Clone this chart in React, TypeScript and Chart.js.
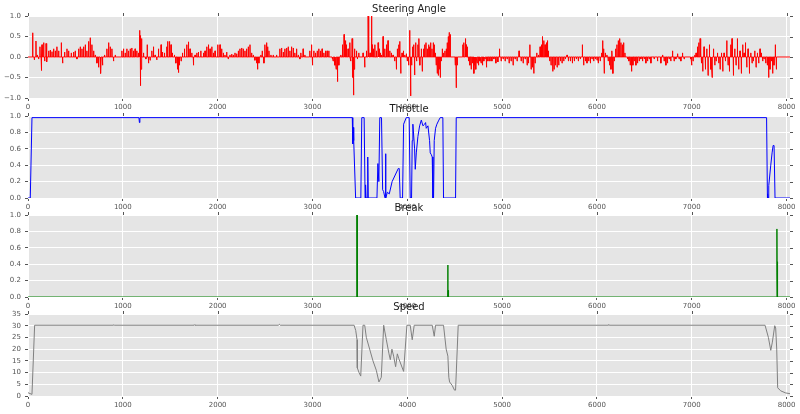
import { useEffect, useRef } from 'react';
import { Chart, registerables } from 'chart.js';

Chart.register(...registerables);

// ---- data ----
const sampleMax = 8036;
const sampleTicks = [0, 1000, 2000, 3000, 4000, 5000, 6000, 7000, 8000];
const steeringTicks = [-1, -0.5, 0, 0.5, 1];
const pedalTicks = [0, 0.2, 0.4, 0.6, 0.8, 1];
const speedTicks = [0, 5, 10, 15, 20, 25, 30, 35];

// steering angle: signal sits at 0 and jumps to these values at these samples
const steeringSpikes: [number, number][] = [
  [49, 0.59], [67, -0.07], [84, 0.39], [98, 0.05], [112, -0.05], [126, 0.25], [140, -0.33], [148, 0.3],
  [165, 0.35], [176, -0.1], [190, 0.33], [200, -0.12], [218, 0.15], [235, 0.17], [253, 0.13], [270, 0.2],
  [288, 0.15], [305, 0.25], [323, 0.15], [351, 0.35], [365, -0.15], [386, 0.12], [411, 0.2], [428, 0.15],
  [456, 0.1], [481, 0.12], [498, 0.15], [516, -0.05], [534, 0.2], [551, 0.25], [569, 0.2], [586, 0.25],
  [604, 0.3], [621, 0.15], [639, 0.38], [656, 0.47], [674, 0.3], [692, 0.15], [709, 0.05], [727, -0.15],
  [744, -0.25], [762, -0.35], [769, -0.4], [786, -0.2], [807, 0.05], [832, 0.2], [850, 0.35], [867, 0.25],
  [885, 0.2], [902, -0.1], [920, 0.05], [990, 0.15], [1007, 0.2], [1025, 0.1], [1043, 0.2], [1060, 0.15],
  [1078, 0.2], [1095, 0.22], [1113, 0.15], [1130, 0.2], [1148, 0.15], [1165, 0.1], [1176, 0.65], [1183, 0.52],
  [1186, -0.7], [1193, -0.3], [1200, 0.45], [1218, 0.1], [1243, -0.05], [1257, 0.3], [1271, -0.15], [1288, -0.08],
  [1306, 0.15], [1323, 0.25], [1341, 0.05], [1358, -0.07], [1376, 0.2], [1404, 0.3], [1418, 0.12], [1439, 0.1],
  [1464, 0.25], [1474, 0.38], [1492, 0.38], [1509, 0.3], [1523, 0.1], [1544, 0.05], [1559, -0.15], [1576, -0.3],
  [1587, -0.38], [1597, -0.2], [1615, -0.1], [1629, 0.1], [1650, 0.2], [1674, 0.3], [1692, 0.37], [1709, 0.2],
  [1727, 0.1], [1745, -0.2], [1762, 0.05], [1780, 0.1], [1797, 0.12], [1822, 0.15], [1850, 0.1], [1867, 0.15],
  [1885, 0.25], [1903, 0.3], [1920, 0.2], [1938, 0.25], [1955, 0.1], [1973, 0.15], [2001, 0.3], [2025, 0.3],
  [2042, 0.2], [2060, 0.1], [2077, 0.05], [2095, 0.12], [2112, -0.05], [2130, 0.05], [2148, 0.07], [2165, 0.05],
  [2183, 0.1], [2200, 0.08], [2218, 0.15], [2235, 0.2], [2253, 0.22], [2270, 0.2], [2288, 0.15], [2305, 0.2],
  [2323, 0.25], [2341, 0.3], [2358, 0.1], [2376, 0.05], [2393, -0.08], [2411, -0.15], [2421, -0.3], [2435, -0.15],
  [2456, 0.05], [2470, 0.15], [2488, -0.15], [2499, 0.3], [2516, 0.35], [2527, 0.25], [2541, 0.15], [2562, 0.05],
  [2586, 0.05], [2621, 0.05], [2656, 0.2], [2674, 0.22], [2692, 0.12], [2709, 0.2], [2727, 0.22], [2744, 0.25],
  [2762, 0.15], [2779, 0.25], [2797, 0.22], [2814, 0.1], [2832, 0.2], [2850, 0.05], [2867, -0.05], [2878, 0.1],
  [2902, 0.2], [2920, 0.05], [2972, 0.15], [2990, 0.3], [3000, -0.2], [3014, 0.15], [3032, 0.1], [3050, 0.15],
  [3067, 0.2], [3085, 0.15], [3102, 0.2], [3120, 0.1], [3137, 0.15], [3155, 0.15], [3172, 0.15], [3208, -0.05],
  [3218, -0.1], [3236, -0.2], [3250, -0.3], [3264, -0.6], [3278, -0.2], [3299, 0.05], [3316, 0.3], [3334, 0.55],
  [3348, 0.4], [3358, 0.3], [3376, 0.2], [3394, 0.35], [3404, -0.1], [3418, 0.45], [3425, -0.5], [3432, -0.93],
  [3439, -0.3], [3446, 0.2], [3464, 0.15], [3474, -0.05], [3488, 0.1], [3534, 0.1], [3551, -0.25], [3569, 0.15],
  [3587, 1.0], [3594, 0.3], [3608, 0.1], [3622, 1.0], [3629, 0.3], [3643, 0.2], [3657, 0.3], [3674, 0.15],
  [3692, 0.35], [3702, 0.2], [3716, 0.1], [3727, 0.05], [3745, 0.5], [3762, 0.2], [3780, 0.3], [3797, 0.4],
  [3815, 0.15], [3832, 0.1], [3850, 0.05], [3867, -0.1], [3885, -0.3], [3895, 0.2], [3910, 0.3], [3920, 0.38],
  [3931, -0.4], [3945, 0.1], [3959, 0.15], [3973, 0.05], [3990, 0.08], [4000, -0.1], [4014, -0.2], [4025, 0.65],
  [4035, -0.95], [4046, -0.2], [4056, 0.25], [4067, 0.3], [4077, -0.44], [4088, 0.35], [4098, -0.1], [4112, 0.3],
  [4123, 0.45], [4133, -0.2], [4148, 0.2], [4158, -0.35], [4172, 0.2], [4183, 0.3], [4197, 0.35], [4211, 0.2],
  [4225, 0.3], [4235, 0.25], [4246, 0.35], [4260, 0.2], [4274, 0.35], [4284, 0.3], [4295, 0.1], [4305, -0.2],
  [4316, -0.4], [4327, -0.45], [4337, -0.3], [4348, -0.5], [4358, -0.1], [4369, 0.2], [4383, 0.1], [4397, 0.15],
  [4411, 0.2], [4421, 0.35], [4432, 0.5], [4442, 0.6], [4453, 0.55], [4506, -0.2], [4516, -0.75], [4527, -0.2],
  [4586, 0.3], [4597, 0.35], [4611, 0.45], [4621, 0.3], [4632, 0.25], [4646, -0.1], [4660, -0.2], [4674, -0.3],
  [4688, -0.15], [4702, -0.4], [4713, -0.2], [4723, -0.3], [4737, -0.15], [4751, -0.2], [4765, -0.1], [4779, -0.15],
  [4793, -0.2], [4807, -0.1], [4821, -0.05], [4835, -0.25], [4850, -0.1], [4871, -0.1], [4892, -0.1], [4913, -0.05],
  [4934, -0.15], [4955, -0.12], [4972, 0.2], [4990, -0.1], [5011, -0.05], [5032, -0.1], [5053, -0.05], [5074, -0.15],
  [5095, -0.1], [5116, -0.2], [5137, -0.05], [5158, -0.1], [5179, 0.15], [5201, -0.1], [5222, -0.15], [5243, -0.05],
  [5264, -0.2], [5278, -0.15], [5292, 0.3], [5306, -0.3], [5320, -0.25], [5334, -0.4], [5348, -0.15], [5365, 0.1],
  [5383, 0.05], [5401, 0.25], [5415, 0.3], [5425, 0.5], [5439, 0.4], [5453, 0.3], [5467, 0.35], [5478, 0.4],
  [5488, 0.15], [5502, -0.1], [5516, -0.2], [5534, -0.35], [5548, -0.3], [5562, -0.2], [5580, -0.25], [5597, -0.2],
  [5615, -0.1], [5632, -0.15], [5650, -0.1], [5667, -0.05], [5685, 0.05], [5699, -0.1], [5720, -0.1], [5741, -0.15],
  [5762, -0.1], [5783, -0.05], [5804, -0.1], [5825, -0.05], [5846, 0.3], [5860, -0.2], [5878, -0.1], [5895, -0.15],
  [5913, -0.1], [5931, -0.15], [5948, -0.05], [5966, -0.1], [5983, -0.05], [6001, -0.08], [6014, -0.15], [6035, -0.1],
  [6049, 0.1], [6060, 0.4], [6070, 0.2], [6077, -0.4], [6088, 0.1], [6105, 0.05], [6119, -0.1], [6133, -0.2],
  [6148, -0.3], [6158, 0.15], [6169, -0.4], [6183, -0.1], [6197, 0.2], [6211, 0.3], [6225, 0.4], [6239, 0.45],
  [6253, 0.35], [6267, 0.3], [6281, 0.35], [6295, 0.1], [6323, -0.05], [6337, -0.1], [6351, -0.2], [6365, -0.35],
  [6379, -0.2], [6393, -0.1], [6411, -0.2], [6428, -0.15], [6446, -0.1], [6463, -0.05], [6481, -0.1], [6499, -0.05],
  [6516, -0.15], [6534, -0.1], [6551, -0.05], [6569, -0.15], [6604, -0.05], [6639, -0.1], [6674, -0.15], [6692, 0.05],
  [6709, -0.1], [6727, -0.2], [6744, -0.15], [6762, -0.05], [6779, -0.1], [6797, 0.15], [6814, -0.1], [6832, -0.05],
  [6850, 0.08], [6867, -0.05], [6885, -0.1], [6902, 0.1], [6920, -0.05], [6990, -0.05], [7000, -0.2], [7014, -0.1],
  [7032, 0.05], [7046, 0.1], [7060, 0.25], [7074, 0.35], [7088, 0.45], [7095, 0.3], [7102, -0.15], [7116, -0.35],
  [7130, 0.25], [7144, -0.3], [7158, 0.2], [7172, -0.45], [7186, 0.3], [7201, -0.3], [7215, -0.5], [7229, 0.2],
  [7243, -0.2], [7257, -0.1], [7271, 0.1], [7285, -0.15], [7299, -0.3], [7313, 0.1], [7327, -0.35], [7341, 0.1],
  [7355, -0.1], [7369, 0.4], [7383, -0.2], [7397, -0.35], [7411, 0.3], [7425, 0.45], [7439, -0.45], [7453, 0.2],
  [7467, -0.2], [7481, 0.45], [7495, -0.3], [7509, 0.15], [7523, -0.4], [7537, 0.3], [7552, 0.1], [7566, 0.35],
  [7580, -0.25], [7594, 0.2], [7608, -0.4], [7622, 0.1], [7636, -0.15], [7650, -0.1], [7664, 0.15], [7678, -0.25],
  [7692, 0.1], [7706, -0.15], [7720, 0.2], [7734, 0.1], [7748, -0.1], [7762, -0.05], [7780, -0.15], [7797, -0.2],
  [7811, -0.5], [7825, -0.3], [7839, -0.1], [7853, -0.4], [7867, -0.2], [7881, 0.3], [7892, -0.3],
];

const throttle: [number, number][] = [
  [0, 0], [24, 0], [42, 0.98], [1170, 0.98], [1175, 0.92], [1180, 0.98], [3420, 0.98], [3425, 0.66],
  [3430, 0.86], [3435, 0.7], [3455, 0], [3510, 0], [3520, 0.98], [3545, 0.98], [3555, 0], [3560, 0.16],
  [3565, 0], [3578, 0], [3583, 0.5], [3588, 0], [3680, 0], [3690, 0.42], [3700, 0.2], [3710, 0.98],
  [3728, 0.98], [3740, 0.1], [3750, 0.08], [3765, 0], [3770, 0.54], [3775, 0], [3790, 0.07], [3810, 0.05],
  [3840, 0.2], [3905, 0.36], [3915, 0.36], [3925, 0], [3950, 0], [3961, 0.9], [3989, 0.98], [4020, 0.98],
  [4031, 0], [4045, 0], [4052, 0.7], [4059, 0.9], [4077, 0.6], [4084, 0.35], [4095, 0.55], [4112, 0.75],
  [4130, 0.88], [4148, 0.95], [4165, 0.88], [4183, 0.9], [4193, 0.92], [4200, 0.85], [4218, 0.88], [4235, 0.7],
  [4242, 0.55], [4253, 0.53], [4263, 0.5], [4270, 0], [4277, 0], [4284, 0.7], [4298, 0.85], [4312, 0.9],
  [4333, 0.95], [4347, 0.98], [4375, 0.98], [4382, 0], [4509, 0], [4516, 0.98], [7789, 0.98], [7798, 0],
  [7800, 0.05], [7805, 0], [7812, 0.15], [7833, 0.4], [7847, 0.55], [7858, 0.64], [7868, 0.64], [7878, 0],
  [8036, 0],
];

const breakPedal: [number, number][] = [
  [0, 0], [3468, 0], [3469, 1.0], [3471, 0], [3472, 1.0], [3474, 0], [4425, 0], [4427, 0.39],
  [4429, 0], [4431, 0.08], [4434, 0.08], [4436, 0], [7895, 0], [7898, 0.83], [7900, 0.3], [7902, 0.43],
  [7905, 0.43], [7907, 0], [8036, 0],
];

const speed: [number, number][] = [
  [0, 1.4], [42, 0.7], [70, 30.2], [900, 30.2], [905, 30.4], [910, 30.2], [1750, 30.2], [1755, 30.4],
  [1760, 30.2], [2640, 30.2], [2650, 30.6], [2660, 30.2], [3439, 30.2], [3456, 28], [3470, 24], [3473, 12],
  [3491, 10], [3509, 8.5], [3533, 30.2], [3551, 30.2], [3568, 25], [3603, 20], [3638, 15], [3673, 11],
  [3701, 6], [3726, 8], [3751, 30.2], [3779, 24], [3807, 18], [3821, 15.5], [3838, 20], [3856, 17],
  [3877, 12.5], [3895, 18], [3910, 16], [3961, 10.5], [3996, 30.2], [4031, 30.2], [4052, 24], [4073, 30.2],
  [4263, 30.2], [4284, 25.5], [4298, 30.2], [4382, 30.2], [4410, 20], [4428, 17], [4438, 8], [4446, 6],
  [4474, 4.5], [4498, 2.5], [4509, 2.5], [4537, 30.2], [6120, 30.2], [6125, 30.5], [6130, 30.2], [7773, 30.2],
  [7808, 25], [7833, 19.5], [7850, 23], [7875, 30], [7885, 29], [7896, 20], [7906, 3.5], [7938, 2.2],
  [7991, 1.3], [8036, 1.0],
];

// ---- helpers ----
type Pt = { x: number; y: number };
const toPoints = (arr: [number, number][]): Pt[] => arr.map(([x, y]) => ({ x, y }));

const steeringPoints = (): Pt[] => {
  const pts: Pt[] = [{ x: 0, y: 0 }];
  for (const [s, v] of steeringSpikes) {
    pts.push({ x: s - 2, y: 0 }, { x: s, y: v }, { x: s + 2, y: 0 });
  }
  pts.push({ x: sampleMax, y: 0 });
  return pts;
};

const fmtMinus = (v: number, d: number) => (v < 0 ? '\u2212' : '') + Math.abs(v).toFixed(d);

type Panel = {
  title: string;
  points: () => Pt[];
  color: string;
  yMin: number;
  yMax: number;
  yTicks: number[];
  decimals: number;
  top: number;
};

const panels: Panel[] = [
  { title: 'Steering Angle', points: steeringPoints, color: '#ff0000', yMin: -1, yMax: 1, yTicks: steeringTicks, decimals: 1, top: 0 },
  { title: 'Throttle', points: () => toPoints(throttle), color: '#0000ff', yMin: 0, yMax: 1, yTicks: pedalTicks, decimals: 1, top: 100 },
  { title: 'Break', points: () => toPoints(breakPedal), color: '#008000', yMin: 0, yMax: 1, yTicks: pedalTicks, decimals: 1, top: 199 },
  { title: 'Speed', points: () => toPoints(speed), color: '#808080', yMin: 0, yMax: 35, yTicks: speedTicks, decimals: 0, top: 298 },
];

const CANVAS_H = 112;
const FONT = '"DejaVu Sans", "Liberation Sans", sans-serif';

const bgPlugin = {
  id: 'ggbg',
  beforeDraw(chart: any) {
    const { ctx, chartArea: a } = chart;
    ctx.save();
    ctx.fillStyle = '#e5e5e5';
    ctx.fillRect(a.left, a.top, a.right - a.left, a.bottom - a.top);
    ctx.restore();
  },
};

const extrasPlugin = {
  id: 'ggextras',
  afterDraw(chart: any, _args: any, opts: any) {
    const { ctx, chartArea: a, scales } = chart;
    ctx.save();
    ctx.strokeStyle = '#555555';
    ctx.lineWidth = 1;
    ctx.beginPath();
    for (const t of scales.x.ticks) {
      const px = Math.round(scales.x.getPixelForValue(t.value)) + 0.5;
      ctx.moveTo(px, a.top);
      ctx.lineTo(px, a.top - 3);
    }
    for (const t of scales.y.ticks) {
      const py = Math.round(scales.y.getPixelForValue(t.value)) + 0.5;
      ctx.moveTo(a.right, py);
      ctx.lineTo(a.right + 3, py);
    }
    ctx.stroke();
    ctx.fillStyle = '#1a1a1a';
    ctx.font = `10px ${FONT}`;
    ctx.textAlign = 'center';
    ctx.textBaseline = 'middle';
    ctx.fillText(opts.title, (a.left + a.right) / 2, a.top - 7);
    ctx.restore();
  },
};

function PanelChart({ panel }: { panel: Panel }) {
  const ref = useRef<HTMLCanvasElement | null>(null);
  useEffect(() => {
    if (!ref.current) return;
    const chart = new Chart(ref.current, {
      type: 'line',
      data: {
        datasets: [
          {
            data: panel.points(),
            borderColor: panel.color,
            borderWidth: 1,
            pointRadius: 0,
            tension: 0,
            fill: false,
            clip: 0,
          } as any,
        ],
      },
      options: {
        animation: false,
        responsive: false,
        events: [],
        layout: { padding: { top: 16, right: 10, bottom: 2, left: 0 } },
        scales: {
          x: {
            type: 'linear',
            min: 0,
            max: sampleMax,
            afterBuildTicks: (s: any) => {
              s.ticks = sampleTicks.map((v) => ({ value: v }));
            },
            afterFit: (s: any) => {
              s.height = 12;
            },
            ticks: {
              color: '#555555',
              font: { family: FONT, size: 7 },
              padding: 2,
              maxRotation: 0,
              autoSkip: false,
              callback: (v: any) => String(v),
            },
            grid: { color: '#ffffff', lineWidth: 1, tickColor: '#555555', tickLength: 3, drawTicks: true },
            border: { display: false },
          },
          y: {
            type: 'linear',
            min: panel.yMin,
            max: panel.yMax,
            afterBuildTicks: (s: any) => {
              s.ticks = panel.yTicks.map((v) => ({ value: v }));
            },
            afterFit: (s: any) => {
              s.width = 28;
            },
            ticks: {
              color: '#555555',
              font: { family: FONT, size: 7 },
              padding: 4,
              autoSkip: false,
              callback: (v: any) => fmtMinus(Number(v), panel.decimals),
            },
            grid: { color: '#ffffff', lineWidth: 1, tickColor: '#555555', tickLength: 3, drawTicks: true },
            border: { display: false },
          },
        },
        plugins: {
          legend: { display: false },
          tooltip: { enabled: false },
          ggextras: { title: panel.title },
        } as any,
      },
      plugins: [bgPlugin, extrasPlugin],
    });
    return () => chart.destroy();
  }, [panel]);
  return (
    <canvas
      ref={ref}
      width={800}
      height={CANVAS_H}
      style={{ position: 'absolute', left: 0, top: panel.top, width: 800, height: CANVAS_H }}
    />
  );
}

export default function App() {
  useEffect(() => {
    document.body.style.margin = '0';
    document.body.style.background = '#ffffff';
  }, []);
  return (
    <div style={{ position: 'relative', width: 800, height: 414, overflow: 'hidden', background: '#fff' }}>
      {panels.map((p) => (
        <PanelChart key={p.title} panel={p} />
      ))}
    </div>
  );
}
